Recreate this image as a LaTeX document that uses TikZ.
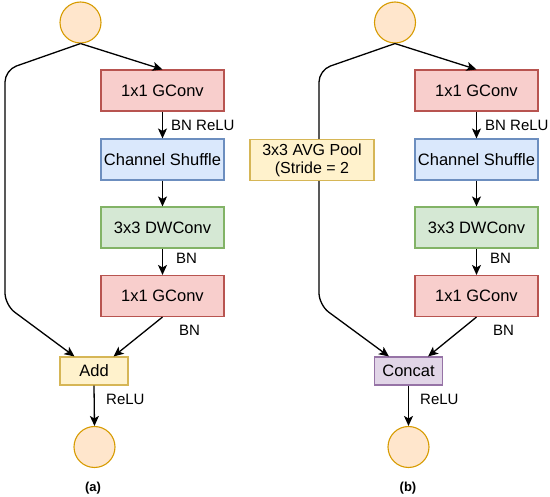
\documentclass[tikz,border=0pt]{standalone}
\usepackage{fontspec}
\setmainfont{Liberation Sans}
\usetikzlibrary{arrows.meta}
\definecolor{redF}{HTML}{F8CECC}\definecolor{redD}{HTML}{B85450}
\definecolor{bluF}{HTML}{DAE8FC}\definecolor{bluD}{HTML}{6C8EBF}
\definecolor{grnF}{HTML}{D5E8D4}\definecolor{grnD}{HTML}{82B366}
\definecolor{ylwF}{HTML}{FFF2CC}\definecolor{ylwD}{HTML}{D6B656}
\definecolor{prpF}{HTML}{E1D5E7}\definecolor{prpD}{HTML}{9673A6}
\definecolor{cirF}{HTML}{FFE6CC}\definecolor{cirD}{HTML}{D79B00}
\tikzset{
  box/.style={draw, line width=1.1pt, minimum width=123pt, minimum height=41pt, inner sep=0pt, font=\fontsize{16.5}{19}\selectfont, align=center},
  smallbox/.style={box, minimum width=68pt, minimum height=28pt},
  redbox/.style={box, fill=redF, draw=redD},
  bluebox/.style={box, fill=bluF, draw=bluD},
  greenbox/.style={box, fill=grnF, draw=grnD},
  ylwbox/.style={box, fill=ylwF, draw=ylwD},
  io/.style={circle, draw=cirD, fill=cirF, line width=1.1pt, minimum size=41pt, inner sep=0pt},
  arr/.style={line width=1.3pt, -{Stealth[length=10pt,width=9pt,inset=2.5pt]}},
  lbl/.style={anchor=west, inner sep=0pt, font=\fontsize{15}{18}\selectfont},
  captext/.style={inner sep=0pt, font=\bfseries\fontsize{13}{16}\selectfont}
}
\begin{document}
\begin{tikzpicture}[x=1pt,y=-1pt]
\useasboundingbox (0,0) rectangle (550,497);
% (a)
\node[io] (ta) at (80.5,22.5) {};
\node[redbox] (g1a) at (162.5,90.5) {1x1 GConv};
\node[bluebox] (csa) at (162.5,159.5) {Channel Shuffle};
\node[greenbox] (dwa) at (162.5,227.5) {3x3 DWConv};
\node[redbox] (g2a) at (162.5,296) {1x1 GConv};
\node[smallbox, fill=ylwF, draw=ylwD] (adda) at (94,371) {Add};
\node[io] (ba) at (94.5,447) {};
\draw[arr] (ta.south) -- (g1a.north);
\draw[arr] (g1a.south) -- (csa.north);
\draw[arr] (csa.south) -- (dwa.north);
\draw[arr] (dwa.south) -- (g2a.north);
\draw[arr, rounded corners=12pt] (ta.south) -- (5,70) -- (5,305) -- ([xshift=15pt]adda.north west);
\draw[arr] (g2a.south) -- ([xshift=-15pt]adda.north east);
\draw[arr] (adda.south) -- (ba.north);
\node[lbl] (la1) at (171,125) {BN ReLU};
\node[lbl] (la2) at (176,258) {BN};
\node[lbl] (la3) at (179,330) {BN};
\node[lbl] (la4) at (106,399) {ReLU};
\node[captext] (capa) at (93,488) {(a)};
% (b)
\node[io] (tb) at (395,22.5) {};
\node[redbox] (g1b) at (476.5,90.5) {1x1 GConv};
\node[bluebox] (csb) at (476.5,159.5) {Channel Shuffle};
\node[greenbox] (dwb) at (476.5,227.5) {3x3 DWConv};
\node[redbox] (g2b) at (476.5,296) {1x1 GConv};
\node[smallbox, fill=prpF, draw=prpD] (catb) at (408.5,371) {Concat};
\node[io] (bb) at (408.5,447) {};
\draw[arr] (tb.south) -- (g1b.north);
\draw[arr] (g1b.south) -- (csb.north);
\draw[arr] (csb.south) -- (dwb.north);
\draw[arr] (dwb.south) -- (g2b.north);
\draw[arr, rounded corners=12pt] (tb.south) -- (319,70) -- (319,305) -- ([xshift=15pt]catb.north west);
\draw[arr] (g2b.south) -- ([xshift=-15pt]catb.north east);
\draw[arr] (catb.south) -- (bb.north);
\node[ylwbox, minimum width=124pt, font=\fontsize{16}{18}\selectfont] (pool) at (312,160) {3x3 AVG Pool\\(Stride = 2};
\node[lbl] (lb1) at (485,125) {BN ReLU};
\node[lbl] (lb2) at (490,258) {BN};
\node[lbl] (lb3) at (493,330) {BN};
\node[lbl] (lb4) at (420,399) {ReLU};
\node[captext] (capb) at (408,488) {(b)};
\end{tikzpicture}
\end{document}
